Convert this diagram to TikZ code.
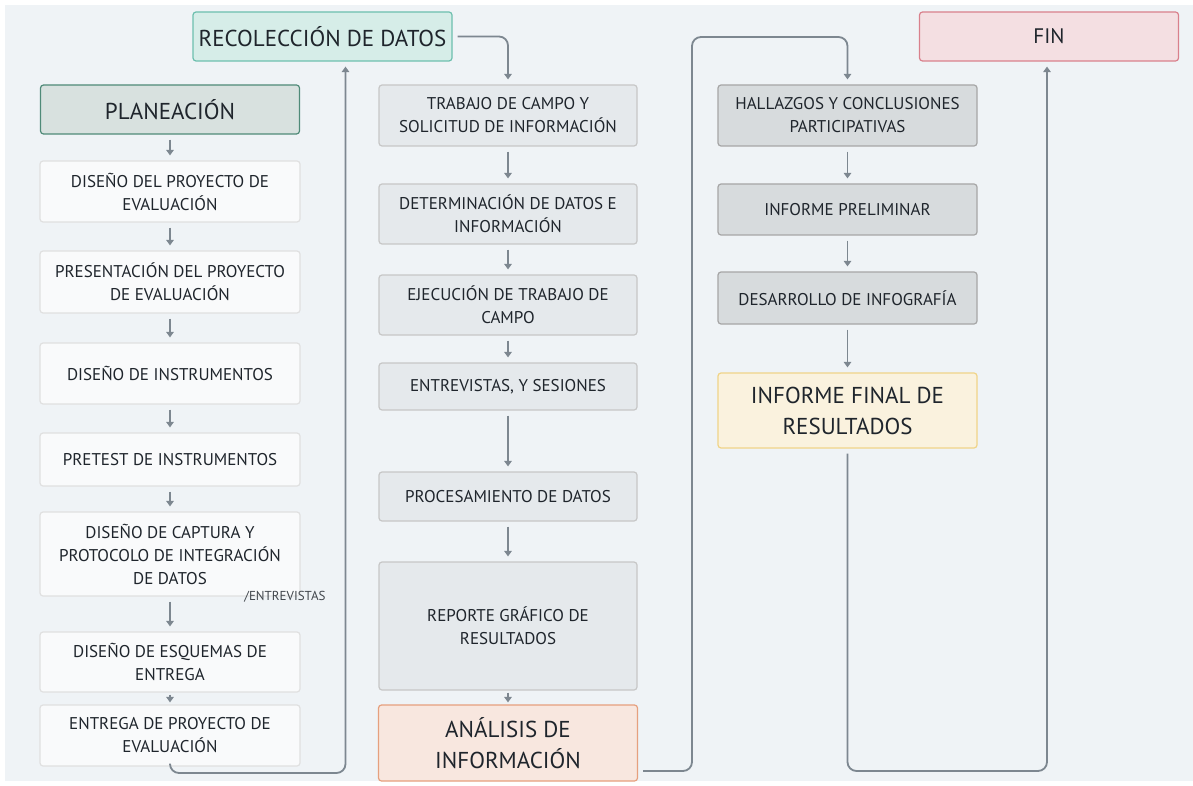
\documentclass[tikz,border=0pt]{standalone}
\usepackage{fontspec}
\setmainfont{PT Sans}
\usetikzlibrary{arrows.meta,calc}

\definecolor{bgcol}{HTML}{EFF3F6}
\definecolor{ink}{HTML}{1F252C}
\definecolor{wire}{HTML}{7D8790}
\tikzset{
  box/.style={draw, rounded corners=3pt, line width=1.2pt, align=center,
    text=ink, font=\fontsize{17}{23}\selectfont, inner sep=0pt},
  leftbox/.style={box, fill=white!60!bgcol, draw=black!12, minimum width=260pt},
  midbox/.style={box, fill=black!4!bgcol, draw=black!22, minimum width=258pt},
  rightbox/.style={box, fill=black!10!bgcol, draw=black!35, minimum width=259pt},
  phase/.style={box, font=\fontsize{23}{31}\selectfont, minimum width=259pt},
  flow/.style={wire, line width=1.8pt, -{Triangle[length=5.5pt,width=7.5pt]},
    shorten <=5pt, shorten >=5pt},
  loopwire/.style={flow, rounded corners=9pt}
}

\begin{document}
\begin{tikzpicture}[x=1pt,y=-1pt]
% background
\fill[white] (0,0) rectangle (1193,786);
\fill[bgcol] (5,5) rectangle (1193,781);

% first column
\node[phase, fill={rgb,255:red,216;green,225;blue,223}, draw={rgb,255:red,79;green,138;blue,120},
  minimum height=49pt] (plan) at (170,109.5) {PLANEACIÓN};
\node[leftbox, minimum height=61pt] (dis) at (170,191.5) {DISEÑO DEL PROYECTO DE\\EVALUACIÓN};
\node[leftbox, minimum height=62pt] (pres) at (170,282) {PRESENTACIÓN DEL PROYECTO\\DE EVALUACIÓN};
\node[leftbox, minimum height=61pt] (inst) at (170,373.5) {DISEÑO DE INSTRUMENTOS};
\node[leftbox, minimum height=53pt] (pret) at (170,459.5) {PRETEST DE INSTRUMENTOS};
\node[leftbox, minimum height=84pt] (capt) at (170,554) {DISEÑO DE CAPTURA Y\\PROTOCOLO DE INTEGRACIÓN\\DE DATOS};
\node[leftbox, minimum height=60pt] (esq) at (170,662) {DISEÑO DE ESQUEMAS DE\\ENTREGA};
\node[leftbox, minimum height=61pt] (ent) at (170,735.5) {ENTREGA DE PROYECTO DE\\EVALUACIÓN};
\node[text=ink!85, font=\fontsize{13}{15}\selectfont, inner sep=0pt] (note) at (285,597) {/ENTREVISTAS};

% second column
\node[phase, fill={rgb,255:red,214;green,237;blue,232}, draw={rgb,255:red,109;green,191;blue,174},
  minimum height=49pt] (reco) at (322.5,36.5) {RECOLECCIÓN DE DATOS};
\node[midbox, minimum height=61pt] (trab) at (508,115.5) {TRABAJO DE CAMPO Y\\SOLICITUD DE INFORMACIÓN};
\node[midbox, minimum height=60pt] (det) at (508,214) {DETERMINACIÓN DE DATOS E\\INFORMACIÓN};
\node[midbox, minimum height=60pt] (ejec) at (508,305) {EJECUCIÓN DE TRABAJO DE\\CAMPO};
\node[midbox, minimum height=47pt] (entr) at (508,386.5) {ENTREVISTAS, Y SESIONES};
\node[midbox, minimum height=49pt] (proc) at (508,496.5) {PROCESAMIENTO DE DATOS};
\node[midbox, minimum height=128pt] (rep) at (508,626) {REPORTE GRÁFICO DE\\RESULTADOS};
\node[phase, fill={rgb,255:red,248;green,231;blue,223}, draw={rgb,255:red,230;green,160;blue,126},
  minimum height=76pt] (anal) at (508,743) {ANÁLISIS DE\\INFORMACIÓN};

% third column
\node[rightbox, minimum height=61pt] (hall) at (847.5,115.5) {HALLAZGOS Y CONCLUSIONES\\PARTICIPATIVAS};
\node[rightbox, minimum height=51pt] (prel) at (847.5,209.5) {INFORME PRELIMINAR};
\node[rightbox, minimum height=52pt] (desa) at (847.5,298) {DESARROLLO DE INFOGRAFÍA};
\node[phase, fill={rgb,255:red,250;green,242;blue,222}, draw={rgb,255:red,240;green,212;blue,136},
  minimum height=75pt] (final) at (847.5,410.5) {INFORME FINAL DE\\RESULTADOS};
\node[phase, font=\fontsize{21}{24}\selectfont, fill={rgb,255:red,244;green,223;blue,226},
  draw={rgb,255:red,217;green,128;blue,140}, minimum height=49pt] (fin) at (1049,36.5) {FIN};

% straight steps
\foreach \a/\b in {plan/dis, dis/pres, pres/inst, inst/pret, pret/capt, capt/esq,
  trab/det, det/ejec, ejec/entr, entr/proc, proc/rep,
  hall/prel, prel/desa, desa/final}
  \draw[flow] (\a) -- (\b);
\draw[flow, shorten <=2pt, shorten >=2pt] (esq) -- (ent);
\draw[flow, shorten <=2pt, shorten >=2pt] (rep) -- (anal);

% links between columns
\coordinate (lbot) at (0,773);
\coordinate (rbot) at (0,771);
\coordinate (turn) at (692,37);
\draw[loopwire, shorten <=3pt] (ent.south) -- (ent.south |- lbot) -| ([xshift=23pt]reco.south);
\draw[loopwire] (reco.east) -| (trab.north);
\draw[loopwire] ([yshift=-28pt]anal.east) -| (turn) -| (hall.north);
\draw[loopwire] (final.south) -- (final.south |- rbot) -| ([xshift=-2pt]fin.south);
\end{tikzpicture}
\end{document}
